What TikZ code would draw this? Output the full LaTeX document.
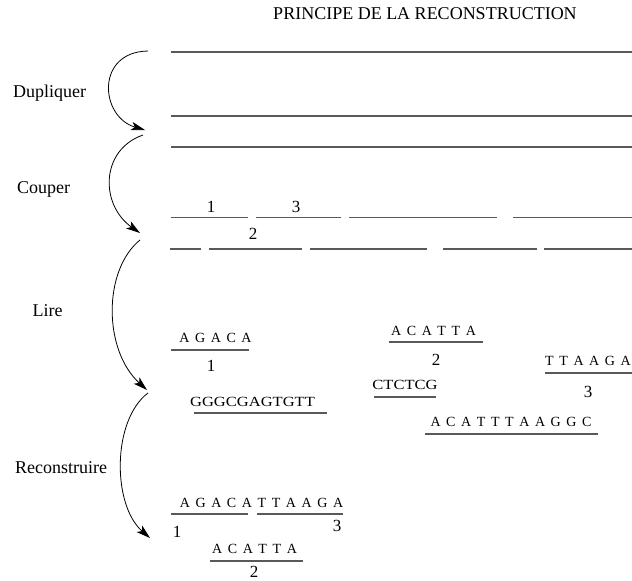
\documentclass[tikz,border=0pt]{standalone}
\usepackage{fontspec}
\setmainfont{Liberation Serif}
\newfontfamily\seqfont[WordSpace=1.6]{Liberation Serif}
\newfontfamily\readfont[FakeStretch=1.18]{Liberation Serif}
\usetikzlibrary{arrows.meta}
\tikzset{lbl/.style={anchor=base, inner sep=0pt, font=\fontsize{18}{18}\selectfont},
num/.style={anchor=base, inner sep=0pt, font=\fontsize{17}{17}\selectfont},
seq/.style={anchor=base, inner sep=0pt, font=\fontsize{14}{14}\seqfont},
lu/.style={anchor=base, inner sep=0pt, font=\fontsize{14}{14}\readfont},
brin/.style={draw=black!65, line width=1.1pt},
fleche/.style={->, line width=0.8pt},
>={Stealth[length=14pt,width=8.5pt,inset=3.5pt]}}
\begin{document}
\begin{tikzpicture}[x=1pt,y=-1pt]
  \useasboundingbox (0,0) rectangle (632,581);
  \node (titre) [lbl] at (425,19) {PRINCIPE DE LA RECONSTRUCTION};
  % etapes
  \node (dup) [lbl] at (49.5,97) {Dupliquer};
  \node (cou) [lbl] at (43.5,193) {Couper};
  \node (lir) [lbl] at (47.5,316) {Lire};
  \node (rec) [lbl] at (61,473) {Reconstruire};
  \coordinate (p0) at (148,51);
  \coordinate (p1) at (145,130);
  \coordinate (p2) at (143,135);
  \coordinate (p3) at (140,233);
  \coordinate (p4) at (140,240);
  \coordinate (p5) at (147,390);
  \coordinate (p6) at (148,393);
  \coordinate (p7) at (150,538);
  \draw [fleche] (p0) .. controls (95,52) and (100,117) .. (p1);
  \draw [fleche] (p2) .. controls (100,150) and (100,205) .. (p3);
  \draw [fleche] (p4) .. controls (103,270) and (103,350) .. (p5);
  \draw [fleche] (p6) .. controls (112,420) and (112,505) .. (p7);
  % brins
  \foreach \y in {52,116,147}
    \draw [brin] (171,\y) -- (632,\y);
  \foreach \a/\b in {171/248, 256/341, 349/497, 513/632}
    \draw [brin] (\a,217.7) -- (\b,217.7);
  \foreach \a/\b in {170/201, 209/302, 310/427, 443/537, 544/632}
    \draw [brin] (\a,249) -- (\b,249);
  \node (c1) [num] at (211,212) {1};
  \node (c3) [num] at (296,212) {3};
  \node (c2) [num] at (253,239) {2};
  % lectures
  \node (s1) [seq] at (215.5,342) {A G A C A};
  \draw [brin] (171,350) -- (249,350);
  \node (n1) [num] at (211,371) {1};
  \node (s2) [seq] at (433.5,335) {A C A T T A};
  \draw [brin] (389,342) -- (483,342);
  \node (n2) [num] at (436,365) {2};
  \node (s3) [seq] at (588,365) {T T A A G A};
  \draw [brin] (545,373) -- (632,373);
  \node (n3) [num] at (588,397) {3};
  \node (l1) [lu] at (405,389) {CTCTCG};
  \draw [brin] (374,397) -- (436,397);
  \node (l2) [lu] at (252.5,406) {GGGCGAGTGTT};
  \draw [brin] (194,413) -- (327,413);
  \node (s4) [seq] at (511,426) {A C A T T T A A G G C};
  \draw [brin] (425,434) -- (598,434);
  % reconstruction
  \node (r1) [seq] at (261.5,507) {A G A C A T T A A G A};
  \draw [brin] (171,514) -- (248,514);
  \draw [brin] (257,514) -- (343,514);
  \node (m1) [num] at (177,537) {1};
  \node (m3) [num] at (337,531) {3};
  \node (r2) [seq] at (254.5,553) {A C A T T A};
  \draw [brin] (210,561) -- (303,561);
  \node (m2) [num] at (254,577.5) {2};
\end{tikzpicture}
\end{document}
